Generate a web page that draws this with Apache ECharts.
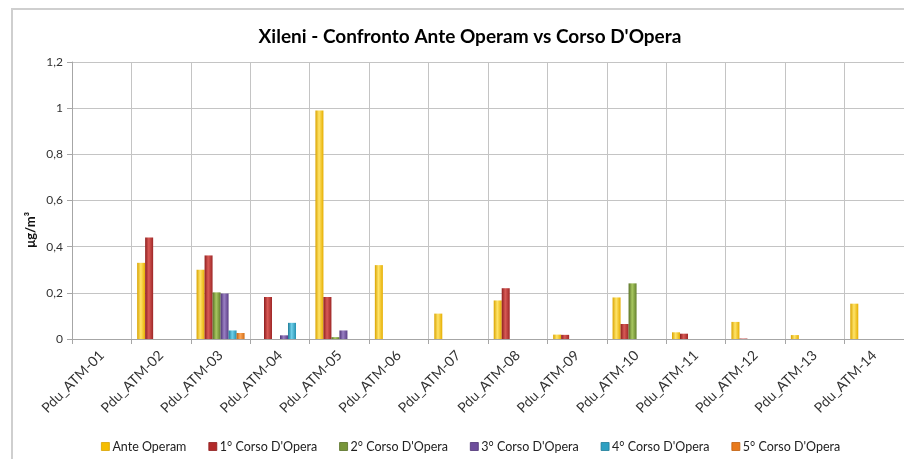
<!DOCTYPE html>
<html>
<head>
<meta charset="utf-8">
<script src="https://cdn.jsdelivr.net/npm/echarts@6/dist/echarts.min.js"></script>
<style>
html,body{margin:0;padding:0;background:#fff;}
#frame{position:absolute;left:11px;top:8px;width:900px;height:460px;border-left:2px solid #cfcfcf;border-top:2px solid #cfcfcf;}
#chart{position:absolute;left:0;top:0;width:904px;height:459px;}
</style>
</head>
<body>
<div id="frame"></div>
<div id="chart"></div>
<script>
const categories = ['Pdu_ATM-01','Pdu_ATM-02','Pdu_ATM-03','Pdu_ATM-04','Pdu_ATM-05','Pdu_ATM-06','Pdu_ATM-07','Pdu_ATM-08','Pdu_ATM-09','Pdu_ATM-10','Pdu_ATM-11','Pdu_ATM-12','Pdu_ATM-13','Pdu_ATM-14'];
const seriesNames = ['Ante Operam','1° Corso D\'Opera','2° Corso D\'Opera','3° Corso D\'Opera','4° Corso D\'Opera','5° Corso D\'Opera'];
const anteOperam = [0, 0.33, 0.30, 0, 0.99, 0.32, 0.11, 0.167, 0.019, 0.18, 0.029, 0.074, 0.017, 0.153];
const corso1 = [0, 0.44, 0.362, 0.182, 0.182, 0, 0, 0.22, 0.018, 0.065, 0.023, 0.002, 0, 0];
const corso2 = [0, 0, 0.202, 0, 0.008, 0, 0, 0, 0, 0.241, 0, 0, 0, 0];
const corso3 = [0, 0, 0.197, 0.016, 0.037, 0, 0, 0, 0, 0, 0, 0, 0, 0];
const corso4 = [0, 0, 0.037, 0.07, 0, 0, 0, 0, 0, 0, 0, 0, 0, 0];
const corso5 = [0, 0, 0.026, 0, 0, 0, 0, 0, 0, 0, 0, 0, 0, 0];
const yTicks = [0, 0.2, 0.4, 0.6, 0.8, 1, 1.2];

const allValues = [anteOperam, corso1, corso2, corso3, corso4, corso5];
const palette = [
  ['#D9A300', '#FFE46A', '#E6AE00', '#F5BD00'],
  ['#8E1E1E', '#D85A56', '#9E2626', '#B22A2A'],
  ['#587026', '#A8C860', '#63802C', '#78963A'],
  ['#4E3476', '#9A80C4', '#5A3E86', '#6E4E9C'],
  ['#1E7C98', '#6FD0EA', '#2590B0', '#2EA0C2'],
  ['#C0600E', '#FFA85A', '#D06C14', '#E87A1C']
];
function grad(c) {
  return new echarts.graphic.LinearGradient(0, 0, 1, 0, [
    {offset: 0, color: c[0]},
    {offset: 0.45, color: c[1]},
    {offset: 1, color: c[2]}
  ]);
}

const chart = echarts.init(document.getElementById('chart'), null, {renderer: 'canvas'});
const font = 'Lato, "Open Sans", sans-serif';
chart.setOption({
  animation: false,
  textStyle: {fontFamily: font},
  title: {
    text: 'Xileni - Confronto Ante Operam vs Corso D\'Opera',
    left: 465, textAlign: 'center', top: 22,
    textStyle: {fontFamily: font, fontWeight: 'bold', fontSize: 19, color: '#000'}
  },
  legend: {
    data: seriesNames.map((n, i) => ({
      name: n,
      itemStyle: {color: palette[i][3], borderColor: palette[i][0], borderWidth: 0.8}
    })),
    top: 435, left: 96,
    itemWidth: 8, itemHeight: 8, itemGap: 22,
    icon: 'rect',
    textStyle: {fontFamily: font, fontSize: 12.5, color: '#222', padding: [0, 0, 0, -2]}
  },
  grid: {left: 72, right: -1, top: 62, bottom: 120, containLabel: false},
  xAxis: {
    type: 'category',
    data: categories,
    axisLine: {show: true, lineStyle: {color: '#a6a6a6', width: 1}},
    axisTick: {show: true, length: 5, lineStyle: {color: '#a6a6a6'}},
    splitLine: {show: true, lineStyle: {color: '#c4c4c4', width: 1}},
    axisLabel: {rotate: 45, fontSize: 14, color: '#333', fontFamily: font, margin: 14, interval: 0}
  },
  yAxis: {
    type: 'value',
    min: 0, max: 1.2, interval: 0.2,
    axisLine: {show: true, lineStyle: {color: '#a6a6a6'}},
    axisTick: {show: true, length: 5, lineStyle: {color: '#a6a6a6'}},
    splitLine: {show: true, lineStyle: {color: '#c4c4c4', width: 1}},
    axisLabel: {
      fontSize: 12, color: '#333', fontFamily: font, margin: 9,
      formatter: function (v) {
        const t = yTicks.find(x => Math.abs(x - v) < 1e-9);
        return String(t !== undefined ? t : v).replace('.', ',');
      }
    }
  },
  graphic: [{
    type: 'text',
    left: 24, top: 212,
    rotation: Math.PI / 2,
    style: {text: 'μg/m³', font: 'bold 13px ' + font, fill: '#111'}
  }],
  series: allValues.map((vals, i) => ({
    name: seriesNames[i],
    type: 'bar',
    data: vals,
    barWidth: 8,
    barGap: '0%',
    itemStyle: {color: grad(palette[i]), borderWidth: 0}
  }))
});
</script>
</body>
</html>
